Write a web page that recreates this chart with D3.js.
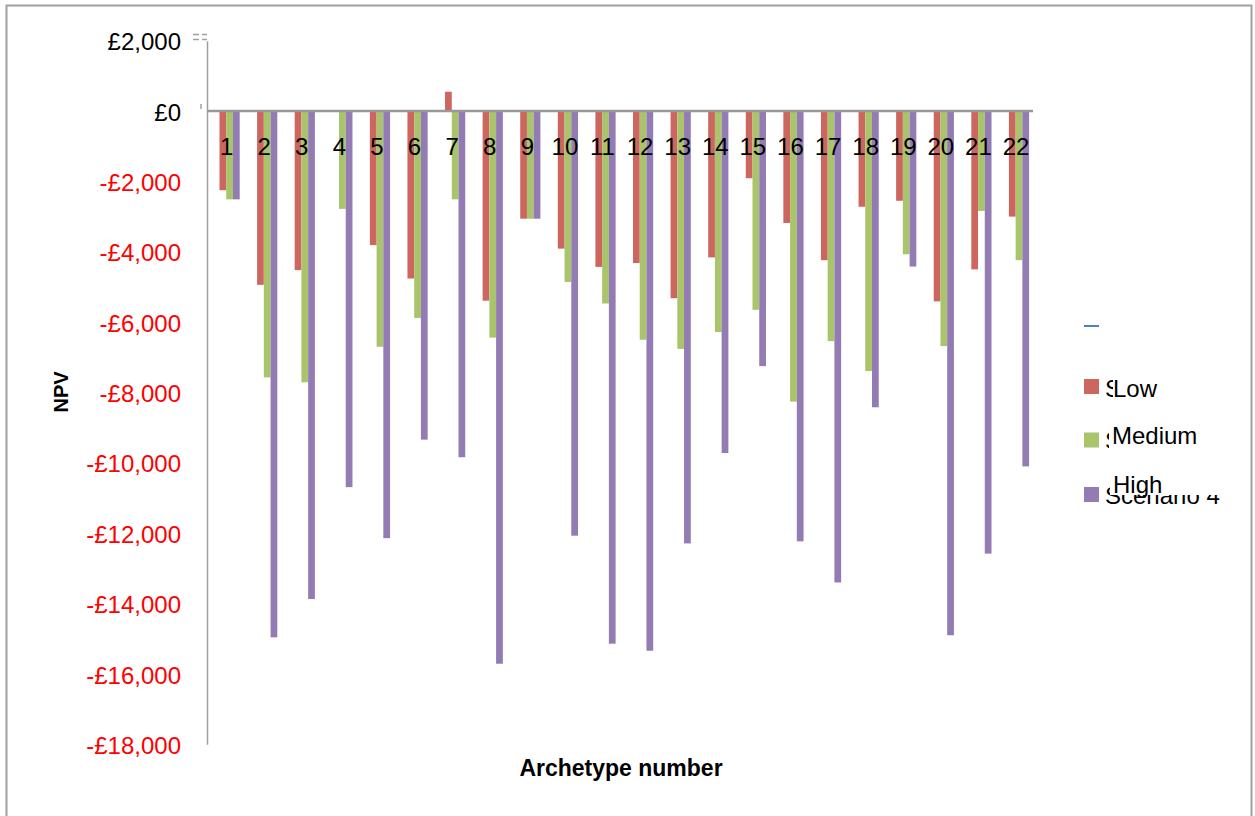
<!DOCTYPE html>
<meta charset="utf-8">
<style>
body { margin: 0; background: #fff; }
text { font-family: "Liberation Sans", Arial, sans-serif; }
.tick text { font-size: 24px; }
.bar-label { font-size: 24px; fill: #000; }
.axis-title { font-size: 23px; font-weight: bold; fill: #000; }
.legend text { font-size: 24px; fill: #000; }
</style>
<body>
<script src="https://cdn.jsdelivr.net/npm/d3@7"></script>
<script>
// data
var archetypes = ["1","2","3","4","5","6","7","8","9","10","11","12","13","14","15","16","17","18","19","20","21","22"];
var series = ["Low", "Medium", "High"];
var oldNames = ["Scenario 2", "Scenario 3", "Scenario 4"];

var low    = [-2250, -4940, -4520,   -20, -3810, -4760,   550, -5390, -3060, -3910, -4430, -4320, -5320, -4160, -1910, -3180, -4240, -2720, -2550, -5410, -4500, -3000];
var medium = [-2510, -7570, -7710, -2780, -6700, -5880, -2510, -6440, -3060, -4860, -5470, -6500, -6760, -6280, -5650, -8260, -6540, -7390, -4070, -6680, -2840, -4240];
var high   = [-2510,-14960,-13870,-10690,-12140, -9340, -9840,-15710, -3060,-12070,-15140,-15340,-12290, -9720, -7250,-12230,-13400, -8420, -4420,-14900,-12580,-10100];

var yTicks = [2000, 0, -2000, -4000, -6000, -8000, -10000, -12000, -14000, -16000, -18000];

var colors = {Low: "#CD665F", Medium: "#AAC46C", High: "#937BB3"};

var W = 1255, H = 816;

var svg = d3.select("body").append("svg")
    .attr("width", W)
    .attr("height", H);

// outer frame
svg.append("rect")
    .attr("x", 6.5).attr("y", 5.5)
    .attr("width", 1245).attr("height", 830)
    .attr("fill", "none")
    .attr("stroke", "#a0a0a0")
    .attr("stroke-width", 2);

// scales
var x = d3.scaleBand().domain(archetypes).range([210.8, 1037.8]);
var groupW = 20.2;
var xs = d3.scaleBand().domain(series).range([0, groupW]);
var y = d3.scaleLinear().domain([-18000, 2000]).range([744.3, 40.7]);

var rows = archetypes.map(function(a, i) {
  return {a: a, Low: low[i], Medium: medium[i], High: high[i]};
});

// bars
var groups = svg.selectAll("g.grp")
    .data(rows)
  .enter().append("g")
    .attr("class", "grp")
    .attr("transform", function(d) { return "translate(" + (x(d.a) + (x.bandwidth() - groupW) / 2) + ",0)"; });

groups.selectAll("rect")
    .data(function(d) { return series.map(function(s) { return {s: s, v: d[s]}; }); })
  .enter().append("rect")
    .attr("x", function(d) { return xs(d.s); })
    .attr("width", xs.bandwidth())
    .attr("y", function(d) { return y(Math.max(0, d.v)); })
    .attr("height", function(d) { return Math.abs(y(d.v) - y(0)); })
    .attr("fill", function(d) { return colors[d.s]; });

// y axis
var fmt = d3.format(",");
var yAxis = svg.append("g")
    .attr("transform", "translate(207,0)")
    .call(d3.axisLeft(y)
      .tickValues(yTicks)
      .tickSize(0)
      .tickPadding(26)
      .tickFormat(function(v) { return v < 0 ? "-£" + fmt(-v) : "£" + fmt(v); }));
yAxis.select(".domain").attr("stroke", "#a0a0a0").attr("stroke-width", 1.5);
yAxis.selectAll(".tick text")
    .attr("dy", "0.38em")
    .attr("fill", function(v) { return v < 0 ? "#ff0000" : "#000"; });

// little marks near the top of the axis
svg.append("path")
    .attr("d", "M193,34.5H199M202,34.5H207M193,39.5H199M202,39.5H207M201,104V109")
    .attr("stroke", "#a0a0a0")
    .attr("stroke-width", 1.5)
    .attr("fill", "none");

// zero line
svg.append("line")
    .attr("x1", 207).attr("x2", 1033)
    .attr("y1", y(0)).attr("y2", y(0))
    .attr("stroke", "#999")
    .attr("stroke-width", 2.5);

// category labels under the zero line
svg.selectAll("text.bar-label")
    .data(archetypes)
  .enter().append("text")
    .attr("class", "bar-label")
    .attr("x", function(d) { return x(d) + x.bandwidth() / 2 - 3; })
    .attr("y", 155)
    .attr("text-anchor", "middle")
    .text(function(d) { return d; });

// axis titles
svg.append("text")
    .attr("class", "axis-title")
    .attr("x", 621).attr("y", 776)
    .attr("text-anchor", "middle")
    .text("Archetype number");

svg.append("text")
    .attr("class", "axis-title")
    .attr("transform", "translate(68,392) rotate(-90)")
    .attr("text-anchor", "middle")
    .style("font-size", "20px")
    .text("NPV");

// legend (old series names peek out from under the new labels)
var legend = svg.append("g").attr("class", "legend");

legend.append("line")
    .attr("x1", 1084).attr("x2", 1099)
    .attr("y1", 326).attr("y2", 326)
    .attr("stroke", "#4F81BD")
    .attr("stroke-width", 2);

var keyY = [379, 432.5, 487];
var oldBase = [397, 449, 504];
var boxX = [1113, 1109, 1110];
var boxY = [372, 425, 470];
var boxH = [30, 30, 25];
var newBase = [397, 444, 493];

series.forEach(function(s, i) {
  legend.append("rect")
      .attr("x", 1084).attr("y", keyY[i])
      .attr("width", 15).attr("height", 15)
      .attr("fill", colors[s]);
  legend.append("text")
      .attr("x", 1105).attr("y", oldBase[i])
      .text(oldNames[i]);
  legend.append("rect")
      .attr("x", boxX[i]).attr("y", boxY[i])
      .attr("width", 120).attr("height", boxH[i])
      .attr("fill", "#fff");
  legend.append("text")
      .attr("x", boxX[i] + (i === 0 ? 0 : 3)).attr("y", newBase[i])
      .text(s);
});
</script>
</body>
